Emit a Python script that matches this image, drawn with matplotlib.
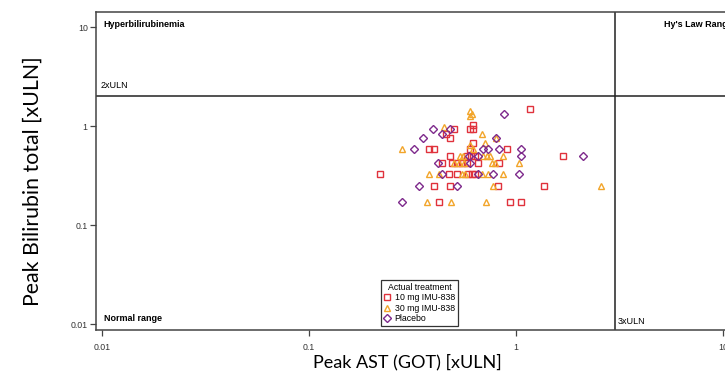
import matplotlib
matplotlib.use("Agg")
import matplotlib.pyplot as plt
from matplotlib.lines import Line2D

# Peak AST (x) and peak total bilirubin (y), both in multiples of ULN
ast_10mg = [1.17, 0.60, 0.62, 0.62, 0.50, 0.457, 0.478, 0.62,
            0.378, 0.40, 0.60, 0.90,
            0.48, 0.578, 0.606, 0.634, 1.69,
            0.439, 0.49, 0.517, 0.547, 0.578, 0.658, 0.83,
            0.22, 0.476, 0.517, 0.588, 0.61, 0.634,
            0.40, 0.478, 0.821, 1.365,
            0.426, 0.936, 1.057]
bili_10mg = [1.5, 0.93, 1.02, 0.93, 0.93, 0.83, 0.75, 0.68,
             0.58, 0.58, 0.58, 0.58,
             0.5, 0.5, 0.5, 0.5, 0.5,
             0.42, 0.42, 0.42, 0.42, 0.42, 0.42, 0.42,
             0.33, 0.33, 0.33, 0.33, 0.33, 0.33,
             0.25, 0.25, 0.25, 0.25,
             0.17, 0.17, 0.17]

ast_30mg = [0.60, 0.61, 0.60, 0.45, 0.685, 0.80, 0.60, 0.71,
            0.28, 0.62,
            0.536, 0.556, 0.695, 0.72, 0.749, 0.86,
            0.50, 0.53, 0.563, 0.763, 0.79, 1.03,
            0.38, 0.426, 0.547, 0.567, 0.687, 0.735, 0.86,
            0.772, 2.57,
            0.37, 0.483, 0.716]
bili_30mg = [1.42, 1.33, 1.25, 0.98, 0.83, 0.75, 0.64, 0.67,
             0.58, 0.58,
             0.5, 0.5, 0.5, 0.5, 0.5, 0.5,
             0.42, 0.42, 0.42, 0.42, 0.42, 0.42,
             0.33, 0.33, 0.33, 0.33, 0.33, 0.33, 0.33,
             0.25, 0.25,
             0.17, 0.17, 0.17]

ast_placebo = [0.878, 0.398, 0.478, 0.44, 0.357, 0.80,
               0.32, 0.695, 0.735, 0.828, 1.06,
               0.595, 0.658, 1.06, 2.10,
               0.418, 0.60,
               0.44, 0.658, 0.777, 1.03,
               0.34, 0.517,
               0.28]
bili_placebo = [1.33, 0.93, 0.93, 0.83, 0.75, 0.75,
                0.58, 0.58, 0.58, 0.58, 0.58,
                0.5, 0.5, 0.5, 0.5,
                0.42, 0.42,
                0.33, 0.33, 0.33, 0.33,
                0.25, 0.25,
                0.17]

groups = ["10 mg IMU-838", "30 mg IMU-838", "Placebo"]
colors = ["#E0323C", "#F2A52A", "#7E2A8C"]
markers = ["s", "^", "D"]
sizes = [4.3, 4.6, 3.8]

bili_limit = 2.0   # 2xULN
ast_limit = 3.0    # 3xULN

plt.rcParams["font.family"] = ["Liberation Sans", "DejaVu Sans"]

fig = plt.figure(figsize=(7.25, 3.74), dpi=100)
# axes runs past the right edge of the canvas
ax = fig.add_axes([96 / 725, 44 / 374, 726 / 725, 318 / 374])
ax.set_xscale("log")
ax.set_yscale("log")
ax.set_xlim(0.00936, 30)
ax.set_ylim(0.0087, 14.2)

data = [(ast_10mg, bili_10mg), (ast_30mg, bili_30mg), (ast_placebo, bili_placebo)]
handles = []
for (xs, ys), lab, c, m, s in zip(data, groups, colors, markers, sizes):
    ax.plot(xs, ys, linestyle="none", marker=m, markersize=s,
            markerfacecolor="none", markeredgecolor=c, markeredgewidth=1.0,
            zorder=3)
    handles.append(Line2D([], [], linestyle="none", marker=m, markersize=s,
                          markerfacecolor="none", markeredgecolor=c,
                          markeredgewidth=1.0, label=lab))

ax.axhline(bili_limit, color="#222222", lw=1.1, zorder=2)
ax.axvline(ast_limit, color="#222222", lw=1.1, zorder=2)

for sp in ["left", "bottom", "top"]:
    ax.spines[sp].set_color("#444444")
    ax.spines[sp].set_linewidth(1.1)
ax.spines["right"].set_visible(False)

ax.set_xticks([0.01, 0.1, 1, 10])
ax.set_xticklabels(["0.01", "0.1", "1", "10"])
ax.set_yticks([0.01, 0.1, 1, 10])
ax.set_yticklabels(["0.01", "0.1", "1", "10"])
ax.minorticks_off()
ax.tick_params(axis="both", direction="out", length=4, width=0.9,
               color="#444444", labelsize=6.3, labelcolor="#333333", pad=2)
ax.tick_params(axis="x", pad=5)

ax.text(0.0102, 10.7, "Hyperbilirubinemia", fontsize=6.5, fontweight="bold",
        va="center", ha="left")
ax.text(0.0098, 2.3, "2xULN", fontsize=6.5, va="bottom", ha="left")
ax.text(5.2, 10.7, "Hy's Law Range", fontsize=6.5, fontweight="bold",
        va="center", ha="left")
ax.text(3.1, 0.0107, "3xULN", fontsize=6.5, va="center", ha="left")
ax.text(0.0102, 0.0114, "Normal range", fontsize=6.5, fontweight="bold",
        va="center", ha="left")

leg = ax.legend(handles=handles, title="Actual treatment", loc="lower left",
                bbox_to_anchor=(381 / 725, (374 - 326) / 374),
                bbox_transform=fig.transFigure, fontsize=6.3,
                title_fontsize=6.3, frameon=True, fancybox=False,
                edgecolor="#333333", framealpha=1, borderaxespad=0,
                handlelength=0.7, handletextpad=0.5, labelspacing=0.15,
                borderpad=0.35)
leg.get_frame().set_linewidth(0.9)

fig.text(407 / 725, 1 - 362 / 374, "Peak AST (GOT) [xULN]", fontsize=13,
         family=["Lato", "DejaVu Sans"], ha="center", va="center")
fig.text(33 / 725, 1 - 181 / 374, "Peak Bilirubin total [xULN]", fontsize=15.3,
         family=["Lato", "DejaVu Sans"], ha="center", va="center",
         rotation=90)

fig.savefig("out.png", dpi=100)
